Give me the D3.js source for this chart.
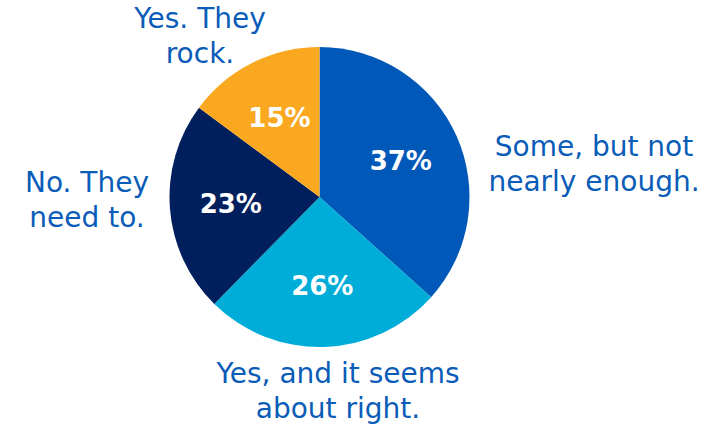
<!DOCTYPE html>
<html>
<head>
<meta charset="utf-8">
<script src="https://cdn.jsdelivr.net/npm/d3@7"></script>
<style>
  body { margin: 0; background: #fff; }
  svg text { font-family: "DejaVu Sans", "Noto Sans", sans-serif; }
</style>
</head>
<body>
<div id="chart"></div>
<script>
// data
const categories = ["Some, but not nearly enough.", "Yes, and it seems about right.", "No. They need to.", "Yes. They rock."];
const values = [37, 26, 23, 15];
const colors = ["#0058b8", "#00acd8", "#001f5c", "#f9a81f"];

// label lines + where to put them (layout only)
const labelLines = [["Some, but not", "nearly enough."], ["Yes, and it seems", "about right."], ["No. They", "need to."], ["Yes. They", "rock."]];
const labelPos = [[594, 156], [338, 383], [87, 192], [200, 28]];

const svgWidth = 723, svgHeight = 424;
const cx = 319.5, cy = 197, radius = 150;

const svg = d3.select("#chart")
  .append("svg")
  .attr("width", svgWidth)
  .attr("height", svgHeight);

const g = svg.append("g").attr("transform", `translate(${cx},${cy})`);

const pie = d3.pie().sort(null).value(d => d);
const arcs = pie(values);
const arc = d3.arc().innerRadius(0).outerRadius(radius);
const labelArc = d3.arc().innerRadius(89).outerRadius(89);

g.selectAll("path")
  .data(arcs)
  .enter()
  .append("path")
  .attr("d", arc)
  .attr("fill", (d, i) => colors[i]);

// percentages inside slices
g.selectAll(".pct")
  .data(arcs)
  .enter()
  .append("text")
  .attr("class", "pct")
  .attr("transform", d => `translate(${labelArc.centroid(d)})`)
  .attr("text-anchor", "middle")
  .attr("dy", "0.36em")
  .style("font-size", "26px")
  .style("font-weight", "bold")
  .style("fill", "white")
  .text(d => d.data + "%");

// outside category labels
labelLines.forEach((lines, i) => {
  const t = svg.append("text")
    .attr("x", labelPos[i][0])
    .attr("y", labelPos[i][1])
    .attr("text-anchor", "middle")
    .style("font-size", "28px")
    .style("fill", "#0a5cb8");
  lines.forEach((line, j) => {
    t.append("tspan")
      .attr("x", labelPos[i][0])
      .attr("dy", j === 0 ? 0 : 35)
      .text(line);
  });
});
</script>
</body>
</html>
